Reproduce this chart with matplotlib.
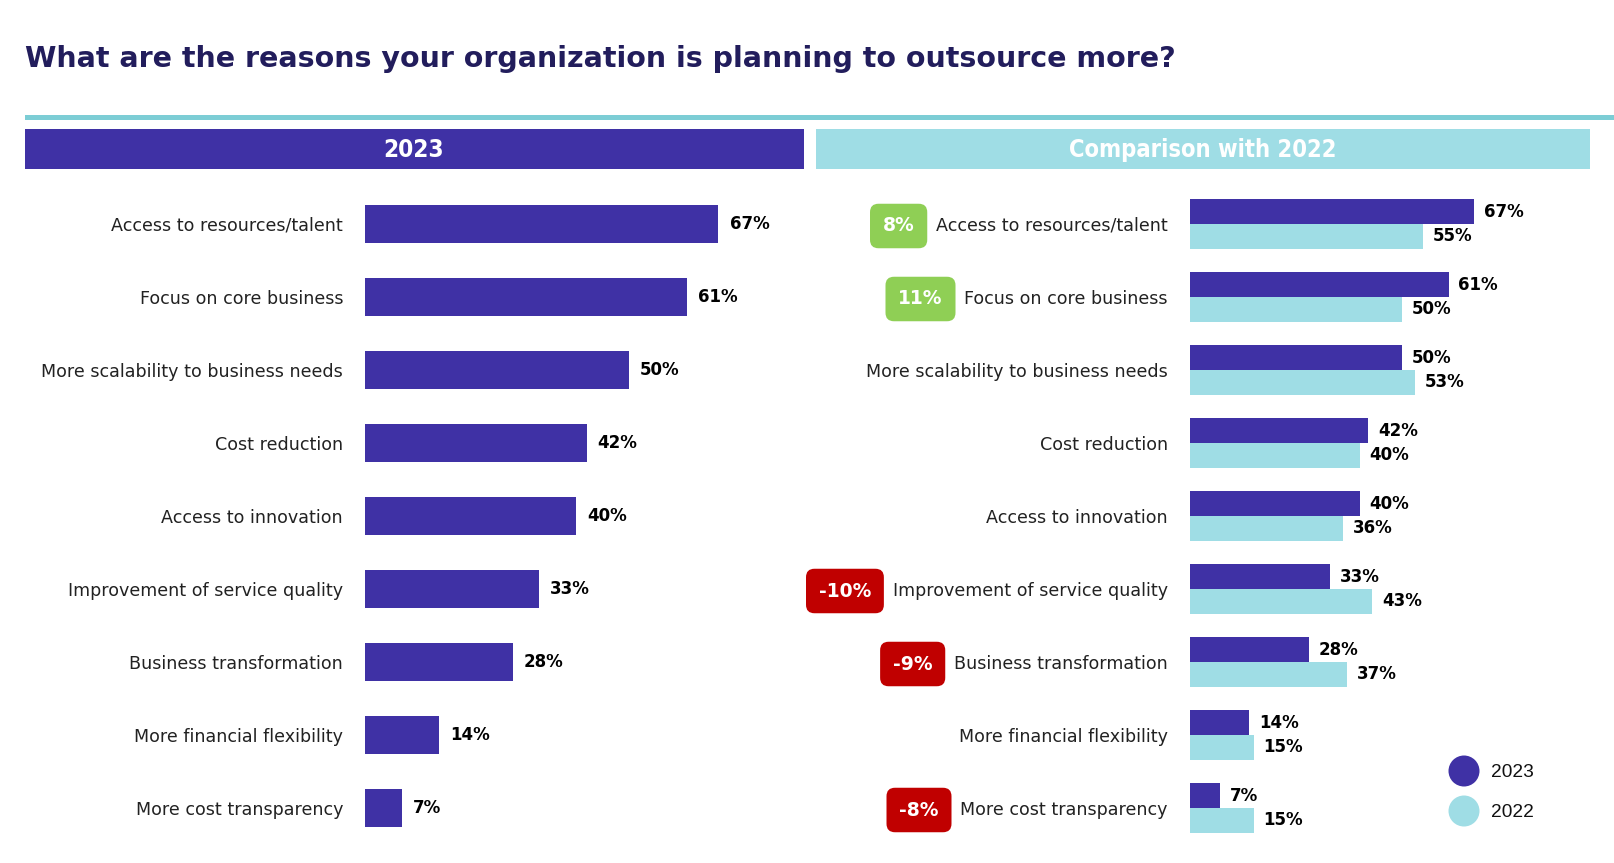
import matplotlib.pyplot as plt
from matplotlib.patches import Rectangle, Circle

categories = ['Access to resources/talent', 'Focus on core business',
              'More scalability to business needs', 'Cost reduction',
              'Access to innovation', 'Improvement of service quality',
              'Business transformation', 'More financial flexibility',
              'More cost transparency']
vals_2023 = [67, 61, 50, 42, 40, 33, 28, 14, 7]
vals_2022 = [55, 50, 53, 40, 36, 43, 37, 15, 15]
badges = ['8%', '11%', None, None, None, '-10%', '-9%', None, '-8%']

PURPLE = '#3f31a5'
TEAL = '#9fdde5'
NAVY = '#221d5c'
GREEN = '#8fcf55'
RED = '#c00000'

W, H = 1614, 863
fig = plt.figure(figsize=(W / 100, H / 100), dpi=100)

# background axes in pixel coordinates for the decorations
bg = fig.add_axes([0, 0, 1, 1])
bg.set_xlim(0, W)
bg.set_ylim(H, 0)
bg.axis('off')

bg.text(25, 59, 'What are the reasons your organization is planning to outsource more?',
        fontsize=20.5, fontweight='bold', color=NAVY, va='center', ha='left')
bg.add_patch(Rectangle((25, 115), W - 25, 5, color='#7ccdd5', lw=0))
bg.add_patch(Rectangle((25, 129), 779, 40, color=PURPLE, lw=0))
bg.add_patch(Rectangle((816, 129), 774, 40, color=TEAL, lw=0))
bg.text(414, 150, '2023', color='white', fontsize=17.5, fontweight='bold',
        family='DejaVu Sans', fontstretch='condensed', ha='center', va='center')
bg.text(1203, 150, 'Comparison with 2022', color='white', fontsize=17,
        fontweight='bold', family='DejaVu Sans', fontstretch='condensed',
        ha='center', va='center')

# legend
for yy, col, lab in [(771, PURPLE, '2023'), (811, TEAL, '2022')]:
    bg.add_patch(Circle((1464, yy), 15.5, color=col, lw=0, zorder=5))
    bg.text(1491, yy + 1, lab, fontsize=13.8, family='Liberation Sans',
            va='center', ha='left', color='#111111', zorder=5)

# row geometry
top_px, bot_px = 224 - 36.5, 808 + 36.5
ax_b = 1 - bot_px / H
ax_h = (bot_px - top_px) / H
n = len(categories)
ypos = list(range(n))

lab_font = 12.65
pad_pt = 22 * 0.72

# left panel
axL = fig.add_axes([365 / W, ax_b, 80 * 5.276 / W, ax_h])
axL.patch.set_visible(False)
axL.barh(ypos, vals_2023, height=0.52, color=PURPLE)
for y, v in zip(ypos, vals_2023):
    axL.text(v + 2.1, y, f'{v}%', va='center', ha='left', fontsize=12,
             fontweight='bold', color='black')
axL.set_xlim(0, 80)
axL.set_ylim(n - 0.5, -0.5)
axL.set_yticks(ypos)
axL.set_yticklabels(categories, fontsize=lab_font, color='#222222')
axL.tick_params(axis='y', length=0, pad=pad_pt)
axL.set_xticks([])
for s in axL.spines.values():
    s.set_visible(False)

# right panel
axR = fig.add_axes([1190 / W, ax_b, 80 * 4.24 / W, ax_h])
axR.patch.set_visible(False)
hb = 0.338
axR.barh([y - hb / 2 for y in ypos], vals_2023, height=hb, color=PURPLE)
axR.barh([y + hb / 2 for y in ypos], vals_2022, height=hb, color=TEAL)
for y, a, b in zip(ypos, vals_2023, vals_2022):
    axR.text(a + 2.3, y - hb / 2, f'{a}%', va='center', ha='left', fontsize=12,
             fontweight='bold', color='black')
    axR.text(b + 2.3, y + hb / 2, f'{b}%', va='center', ha='left', fontsize=12,
             fontweight='bold', color='black')
axR.set_xlim(0, 80)
axR.set_ylim(n - 0.5, -0.5)
axR.set_yticks(ypos)
axR.set_yticklabels(categories, fontsize=lab_font, color='#222222')
axR.tick_params(axis='y', length=0, pad=pad_pt)
axR.set_xticks([])
for s in axR.spines.values():
    s.set_visible(False)

# badges next to the right-hand labels
fig.canvas.draw()
renderer = fig.canvas.get_renderer()
badge_fs = 13.5
pad_frac = 0.68
pad_px = pad_frac * badge_fs * 100 / 72
for lbl, b in zip(axR.get_yticklabels(), badges):
    if b is None:
        continue
    ext = lbl.get_window_extent(renderer)
    x_right = ext.x0 - 9 - pad_px
    yc = H - (ext.y0 + ext.y1) / 2
    col = GREEN if not b.startswith('-') else RED
    bg.text(x_right, yc, b, fontsize=badge_fs, fontweight='bold', color='white',
            ha='right', va='center',
            bbox=dict(boxstyle=f'round,pad={pad_frac},rounding_size=0.45',
                      fc=col, ec='none'))

fig.savefig('out.png', dpi=100)
